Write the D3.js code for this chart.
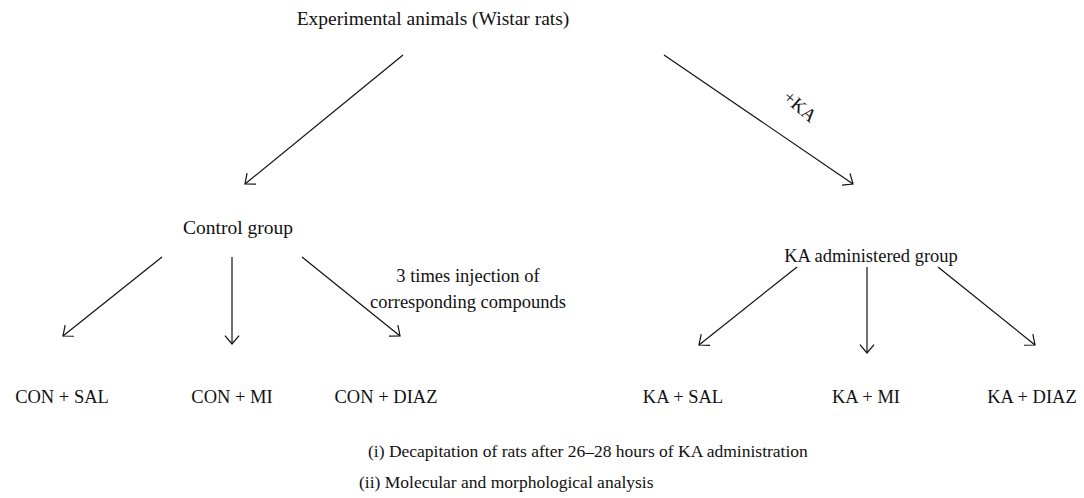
<!DOCTYPE html>
<html><head><meta charset="utf-8">
<script src="https://cdn.jsdelivr.net/npm/d3@7"></script>
<style>body{margin:0;background:#fff}svg{display:block}</style>
</head><body><svg id="c" width="1084" height="498"></svg>
<script>
const rootLabel = "Experimental animals (Wistar rats)";
const groupLabels = ["Control group", "KA administered group"];
const controlLabels = ["CON + SAL", "CON + MI", "CON + DIAZ"];
const kaLabels = ["KA + SAL", "KA + MI", "KA + DIAZ"];
const edgeNote = "+KA";
const injectionNote = ["3 times injection of", "corresponding compounds"];
const footnotes = ["(i) Decapitation of rats after 26\u201328 hours of KA administration", "(ii) Molecular and morphological analysis"];

const svg = d3.select("#c");
const fs = 18.5;
const FONT = "'Liberation Serif', 'DejaVu Serif', serif";

function txt(str, cx, by, anchor="middle", size=fs) {
  return svg.append("text").attr("x", cx).attr("y", by).attr("text-anchor", anchor)
    .attr("font-family", FONT).attr("fill", "#111")
    .attr("font-size", size).text(str);
}
function arrow(x1, y1, x2, y2) {
  svg.append("line").attr("x1", x1).attr("y1", y1).attr("x2", x2).attr("y2", y2)
    .attr("stroke", "#111").attr("stroke-width", 1.2);
  const a = Math.atan2(y2 - y1, x2 - x1), L = 11, s = Math.PI / 4.5;
  const p = [[x2 - L * Math.cos(a - s), y2 - L * Math.sin(a - s)], [x2, y2], [x2 - L * Math.cos(a + s), y2 - L * Math.sin(a + s)]];
  svg.append("path").attr("d", d3.line()(p)).attr("fill", "none").attr("stroke", "#111").attr("stroke-width", 1.2);
}

txt(rootLabel, 433, 25, "middle", 19.5);
arrow(403, 55, 245, 184);
arrow(664, 55, 853, 184);
svg.append("text").attr("font-size", fs).attr("text-anchor", "middle")
  .attr("font-family", FONT).attr("fill", "#111")
  .attr("transform", "translate(796,111) rotate(41)").text(edgeNote);

txt(groupLabels[0], 238, 234, "middle", 19.5);
txt(groupLabels[1], 871, 262);

const ctrlX = [62, 232, 386], kaX = [683, 866, 1032];
arrow(162, 257, 63, 336);
arrow(232, 257, 232, 344);
arrow(302, 257, 400, 336);
arrow(797, 267, 699, 345);
arrow(867, 267, 867, 353);
arrow(938, 267, 1035, 345);

controlLabels.forEach((l, i) => txt(l, ctrlX[i], 403));
kaLabels.forEach((l, i) => txt(l, kaX[i], 403));

txt(injectionNote[0], 468, 282);
txt(injectionNote[1], 468, 308);

txt(footnotes[0], 368, 457, "start", 17.5);
txt(footnotes[1], 359, 488, "start", 17.5);
</script></body></html>
